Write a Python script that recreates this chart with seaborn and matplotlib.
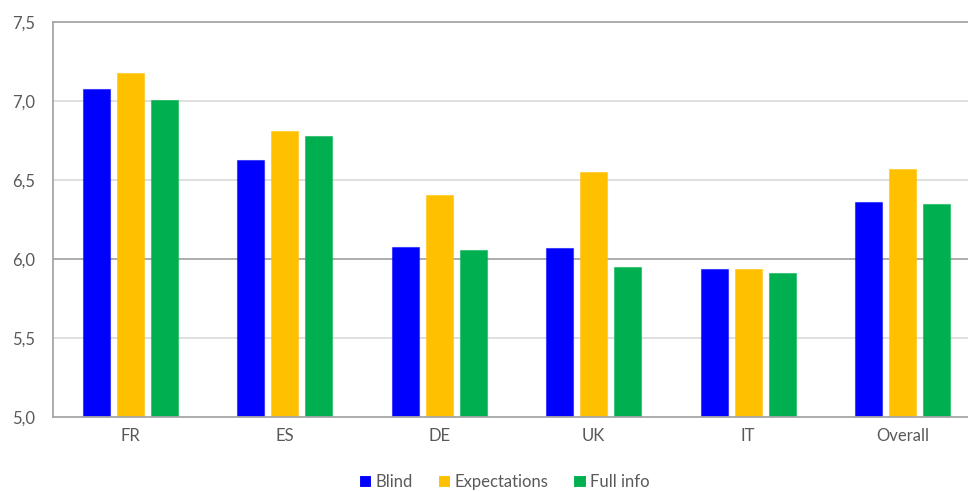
import matplotlib
matplotlib.use("Agg")
import matplotlib.pyplot as plt
import seaborn as sns
import pandas as pd
from matplotlib.ticker import FuncFormatter, FixedLocator

categories = ["FR", "ES", "DE", "UK", "IT", "Overall"]
series_names = ["Blind", "Expectations", "Full info"]
blind = [7.08, 6.63, 6.08, 6.07, 5.94, 6.36]
expectations = [7.18, 6.81, 6.41, 6.55, 5.94, 6.57]
full_info = [7.01, 6.78, 6.06, 5.95, 5.91, 6.35]
y_ticks = [5.0, 5.5, 6.0, 6.5, 7.0, 7.5]

colors = ["#0000FF", "#FFC000", "#00B050"]

rows = []
for name, vals in zip(series_names, [blind, expectations, full_info]):
    for c, v in zip(categories, vals):
        rows.append({"cat": c, "series": name, "value": v})
df = pd.DataFrame(rows)

sns.set_style("white")
plt.rcParams["font.family"] = ["Lato", "DejaVu Sans"]

fig = plt.figure(figsize=(9.68, 4.92), dpi=100)
W, H = 968, 492
left, right, top, bottom = 53, 980, 22.5, 417
ax = fig.add_axes([left / W, 1 - bottom / H, (right - left) / W, (bottom - top) / H])

sns.barplot(data=df, x="cat", y="value", hue="series", palette=colors,
            width=0.66, gap=0.2, ax=ax, legend=True, saturation=1,
            errorbar=None, linewidth=0.8)

for p, col in zip(ax.patches, [c for c in colors for _ in categories]):
    p.set_edgecolor(matplotlib.colors.to_rgba(col, 0.5))

ax.set_ylim(5.0, 7.5)
ax.set_xlim(-0.5, len(categories) - 0.5)
ax.yaxis.set_major_locator(FixedLocator(y_ticks))
ax.yaxis.set_major_formatter(FuncFormatter(lambda v, p: f"{v:.1f}".replace(".", ",")))
ax.set_xlabel("")
ax.set_ylabel("")

for t in y_ticks[1:-1]:
    ax.axhline(t, color="#A6A6A6" if abs(t - 6.0) < 1e-9 else "#DDDDDD",
               lw=1.3, zorder=0)

for s in ["left", "bottom", "top"]:
    ax.spines[s].set_color("#A6A6A6")
    ax.spines[s].set_linewidth(1.3)
ax.spines["right"].set_visible(False)

ax.tick_params(axis="y", length=0, pad=13, labelsize=12, labelcolor="#595959")
ax.tick_params(axis="x", length=0, pad=8, labelsize=12, labelcolor="#595959")

handles, labels = ax.get_legend_handles_labels()
ax.legend_.remove()
fig.legend(handles, labels, loc="center", bbox_to_anchor=(504 / W, 1 - 482 / H),
           ncol=3, frameon=False, fontsize=12, handlelength=0.75, handleheight=0.75,
           handletextpad=0.25, columnspacing=1.5, labelcolor="#595959")

fig.savefig("out.png", dpi=100)
